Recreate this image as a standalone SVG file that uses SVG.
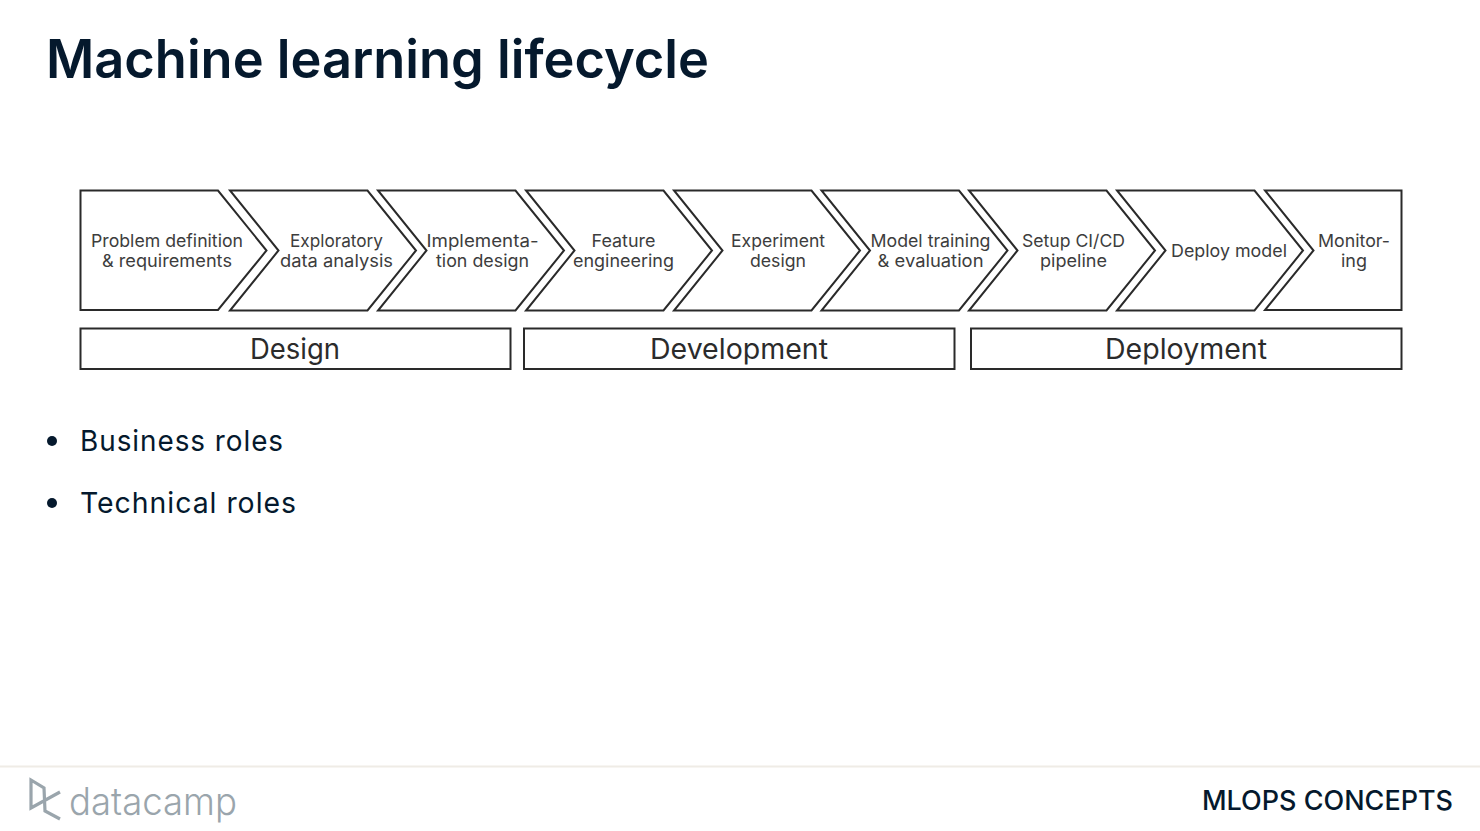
<svg xmlns="http://www.w3.org/2000/svg" width="1480" height="831" viewBox="0 0 1480 831">
<defs>
<path id="chev" d="M0 0H137.500L186 60L137.500 120H0L48.500 60Z"/>
</defs>
<style>
text{font-family:Inter,"Liberation Sans",sans-serif}
.s{fill:#fff;stroke:#2a2a2a;stroke-width:2}
.c{font-size:17.5px;fill:#3d3d3d;text-anchor:middle}
.b{font-size:28px;fill:#2b2b2b;text-anchor:middle}
.l{font-size:29px;fill:#05192d;letter-spacing:1px}
</style>
<rect width="1480" height="831" fill="#fff"/>
<text id="title" x="46" y="78" font-size="53" font-weight="600" fill="#05192d" textLength="663" lengthAdjust="spacingAndGlyphs">Machine learning lifecycle</text>

<g id="n1"><path class="s" d="M80.500 190.500H218L266.500 250.500L218 310H80.500Z"/>
<text class="c" x="167" y="247" textLength="152" lengthAdjust="spacingAndGlyphs">Problem definition</text><text class="c" x="167" y="267" textLength="130" lengthAdjust="spacingAndGlyphs">&amp; requirements</text></g>
<g id="n2"><use class="s" href="#chev" x="230" y="190.500"/>
<text class="c" x="336.500" y="247" textLength="93" lengthAdjust="spacingAndGlyphs">Exploratory</text><text class="c" x="336.500" y="267" textLength="113" lengthAdjust="spacingAndGlyphs">data analysis</text></g>
<g id="n3"><use class="s" href="#chev" x="378" y="190.500"/>
<text class="c" x="482.500" y="247" textLength="112" lengthAdjust="spacingAndGlyphs">Implementa-</text><text class="c" x="482.500" y="267" textLength="93" lengthAdjust="spacingAndGlyphs">tion design</text></g>
<g id="n4"><use class="s" href="#chev" x="526" y="190.500"/>
<text class="c" x="623.500" y="247" textLength="64" lengthAdjust="spacingAndGlyphs">Feature</text><text class="c" x="623.500" y="267" textLength="101" lengthAdjust="spacingAndGlyphs">engineering</text></g>
<g id="n5"><use class="s" href="#chev" x="674" y="190.500"/>
<text class="c" x="778" y="247" textLength="94" lengthAdjust="spacingAndGlyphs">Experiment</text><text class="c" x="778" y="267" textLength="56" lengthAdjust="spacingAndGlyphs">design</text></g>
<g id="n6"><use class="s" href="#chev" x="821.500" y="190.500"/>
<text class="c" x="930.500" y="247" textLength="120" lengthAdjust="spacingAndGlyphs">Model training</text><text class="c" x="930.500" y="267" textLength="106" lengthAdjust="spacingAndGlyphs">&amp; evaluation</text></g>
<g id="n7"><use class="s" href="#chev" x="969" y="190.500"/>
<text class="c" x="1073.500" y="247" textLength="103" lengthAdjust="spacingAndGlyphs">Setup CI/CD</text><text class="c" x="1073.500" y="267" textLength="67" lengthAdjust="spacingAndGlyphs">pipeline</text></g>
<g id="n8"><use class="s" href="#chev" x="1117" y="190.500"/>
<text class="c" x="1229" y="257" textLength="116" lengthAdjust="spacingAndGlyphs">Deploy model</text></g>
<g id="n9"><path class="s" d="M1265 190.500H1401.500V310H1265L1313.500 250.500Z"/>
<text class="c" x="1354" y="247" textLength="72" lengthAdjust="spacingAndGlyphs">Monitor-</text><text class="c" x="1354" y="267" textLength="26" lengthAdjust="spacingAndGlyphs">ing</text></g>

<g id="phase-design"><rect class="s" x="80.500" y="328.500" width="430" height="40.500"/><text class="b" x="295" y="359" textLength="90" lengthAdjust="spacingAndGlyphs">Design</text></g>
<g id="phase-development"><rect class="s" x="524" y="328.500" width="430.500" height="40.500"/><text class="b" x="739" y="359" textLength="178" lengthAdjust="spacingAndGlyphs">Development</text></g>
<g id="phase-deployment"><rect class="s" x="971" y="328.500" width="430.500" height="40.500"/><text class="b" x="1186" y="359" textLength="162" lengthAdjust="spacingAndGlyphs">Deployment</text></g>

<g id="bullets" fill="#05192d">
<circle cx="52" cy="441" r="5"/><text class="l" x="80" y="451" textLength="204" lengthAdjust="spacingAndGlyphs">Business roles</text>
<circle cx="52" cy="503" r="5"/><text class="l" x="80" y="513" textLength="217" lengthAdjust="spacingAndGlyphs">Technical roles</text>
</g>

<g id="footer">
<rect x="0" y="765.500" width="1480" height="2" fill="#efece6"/>
<path d="M60 792L31 808V780L44 788L45 811L60 819" fill="none" stroke="#9aa5ac" stroke-width="3.200"/>
<text x="69" y="815" font-size="38" font-weight="300" fill="#9aa5ac" textLength="168" lengthAdjust="spacingAndGlyphs">datacamp</text>
<text x="1202" y="810" font-size="27" font-weight="500" fill="#05192d" textLength="251" lengthAdjust="spacingAndGlyphs">MLOPS CONCEPTS</text>
</g>
</svg>
